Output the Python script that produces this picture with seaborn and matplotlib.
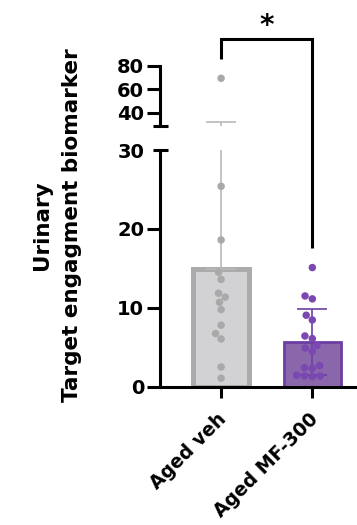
import numpy as np
import pandas as pd
import matplotlib
matplotlib.use("Agg")
import matplotlib.pyplot as plt
import matplotlib.transforms as mtransforms
import seaborn as sns
from matplotlib.lines import Line2D

# ---- data -------------------------------------------------------------
groups = ["Aged veh", "Aged MF-300"]
veh_values = [69.3, 25.4, 18.6, 14.5, 13.6, 11.85, 11.35, 10.7, 9.77,
              7.8, 6.73, 6.05, 2.5, 1.07]
mf300_values = [15.1, 11.13, 11.5, 8.46, 9.06, 6.1, 6.43, 5.25, 4.9,
                4.49, 2.67, 2.33, 2.41, 1.27, 1.45, 1.36, 1.36]
lower_ticks = [0, 10, 20, 30]
upper_ticks = [40, 60, 80]
ylabel_text = "Urinary\nTarget engagment biomarker"
significance = "*"

# ---- style ------------------------------------------------------------
bar_fill = ["#d2d2d4", "#8a5cb6"]
bar_edge = ["#ababab", "#6b3fa2"]
bar_edge_width = [3.6, 2.0]
point_colors = ["#a9a9a9", "#7b48b1"]
err_colors = ["#b9b9b9", "#6b3fa2"]

sns.set_theme(style="ticks")
plt.rcParams["font.family"] = ["DejaVu Sans"]
plt.rcParams["font.weight"] = "bold"
plt.rcParams["text.color"] = "black"

df = pd.DataFrame({
    "group": [groups[0]] * len(veh_values) + [groups[1]] * len(mf300_values),
    "value": veh_values + mf300_values,
})
stats = df.groupby("group", sort=False)["value"].agg(["mean", "std"]).reindex(groups)

W, H = 357, 525
fig = plt.figure(figsize=(W / 100, H / 100), dpi=100)


def px_rect(left, top, right, bottom):
    return [left / W, 1 - bottom / H, (right - left) / W, (bottom - top) / H]


ax_lo = fig.add_axes(px_rect(160, 150, 357, 386.7))
ax_hi = fig.add_axes(px_rect(160, 65.7, 357, 126))

LW = 2.2
for ax in (ax_lo, ax_hi):
    sns.barplot(data=df, x="group", y="value", hue="group", order=groups,
                hue_order=groups, palette=bar_fill, errorbar=None, width=0.62,
                legend=False, ax=ax, zorder=1)
    for patch, ec, lw in zip(ax.patches, bar_edge, bar_edge_width):
        patch.set_edgecolor(ec)
        patch.set_linewidth(lw)

    # mean + SD error bars (vehicle shows the upper side only)
    for i, g in enumerate(groups):
        m, s = stats.loc[g, "mean"], stats.loc[g, "std"]
        lower = 0 if i == 0 else s
        ax.errorbar(i, m, yerr=[[lower], [s]], color=err_colors[i],
                    elinewidth=1.2, capsize=10.8, capthick=1.2,
                    zorder=2 if i == 0 else 3)

sns.swarmplot(data=df, x="group", y="value", hue="group", order=groups,
              hue_order=groups, palette=point_colors, size=5.4, legend=False,
              ax=ax_lo, zorder=4)
sns.stripplot(data=df, x="group", y="value", hue="group", order=groups,
              hue_order=groups, palette=point_colors, size=5.4, jitter=False,
              legend=False, ax=ax_hi, zorder=4)

for ax in (ax_lo, ax_hi):
    ax.set_xlim(-0.67, 1.49)
    ax.set_xlabel("")
    ax.set_ylabel("")
    for side in ("top", "right"):
        ax.spines[side].set_visible(False)
    for sp in ax.spines.values():
        sp.set_linewidth(LW)
        sp.set_color("black")
    ax.tick_params(axis="y", width=LW, length=9.4, labelsize=14, pad=2,
                   colors="black")
    ax.tick_params(axis="x", width=LW, length=8, labelsize=13.5, pad=9,
                   colors="black")

ax_lo.set_ylim(0, 30)
ax_lo.set_yticks(lower_ticks)
ax_lo.yaxis.get_major_ticks()[-1].tick1line.set_visible(False)
ax_lo.set_xticks(range(len(groups)))
ax_lo.set_xticklabels(groups, rotation=45, ha="right", va="top",
                      rotation_mode="anchor", fontweight="bold")
shift = mtransforms.ScaledTranslation(-4 / 100, 1 / 100, fig.dpi_scale_trans)
for lab in ax_lo.get_xticklabels():
    lab.set_transform(lab.get_transform() + shift)
for lab in ax_lo.get_yticklabels():
    lab.set_fontweight("bold")

ax_hi.set_ylim(28.7, 80)
ax_hi.set_yticks(upper_ticks)
ax_hi.spines["bottom"].set_visible(False)
ax_hi.set_xticks([])
for lab in ax_hi.get_yticklabels():
    lab.set_fontweight("bold")

# break caps on the two axis segments
to_fig = fig.transFigure.inverted()
axis_x = ax_lo.transAxes.transform((0, 0))[0]
for ax, yv in ((ax_lo, 30), (ax_hi, 28.7)):
    yp = ax.transData.transform((0, yv))[1]
    a = to_fig.transform((axis_x - 7.5, yp))
    b = to_fig.transform((axis_x + 7.5, yp))
    fig.add_artist(Line2D([a[0], b[0]], [a[1], b[1]], color="black",
                          lw=LW, solid_capstyle="butt"))

# significance bracket spanning both segments
p1 = ax_hi.transData.transform((0, 85.4))
p2 = ax_hi.transData.transform((0, 102.5))
p3 = ax_hi.transData.transform((1, 102.5))
p4 = ax_lo.transData.transform((1, 17.6))
pts = to_fig.transform(np.array([p1, p2, p3, p4]))
fig.add_artist(Line2D(pts[:, 0], pts[:, 1], color="black", lw=LW,
                      solid_joinstyle="miter", solid_capstyle="butt"))
fig.text((pts[1, 0] + pts[2, 0]) / 2, 1 - 34 / H, significance,
         ha="center", va="baseline", fontsize=20, fontweight="bold")

fig.text(57 / W, 1 - 225 / H, ylabel_text, rotation=90, ha="center",
         va="center", multialignment="center", fontsize=15.5,
         fontweight="bold", linespacing=1.65)

fig.savefig("out.png", dpi=100)
